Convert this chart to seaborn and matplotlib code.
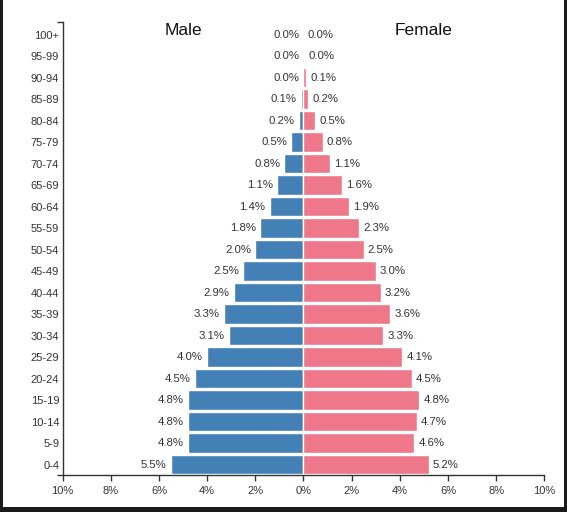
import numpy as np
import pandas as pd
import seaborn as sns
import matplotlib.pyplot as plt
from matplotlib.patches import Rectangle

# age groups, top of the pyramid first
age_groups = ["100+", "95-99", "90-94", "85-89", "80-84", "75-79", "70-74",
              "65-69", "60-64", "55-59", "50-54", "45-49", "40-44", "35-39",
              "30-34", "25-29", "20-24", "15-19", "10-14", "5-9", "0-4"]
# share of population in %
male = [0.0, 0.0, 0.0, 0.1, 0.2, 0.5, 0.8, 1.1, 1.4, 1.8, 2.0, 2.5, 2.9, 3.3,
        3.1, 4.0, 4.5, 4.8, 4.8, 4.8, 5.5]
female = [0.0, 0.03, 0.1, 0.2, 0.5, 0.8, 1.1, 1.6, 1.9, 2.3, 2.5, 3.0, 3.2, 3.6,
          3.3, 4.1, 4.5, 4.8, 4.7, 4.6, 5.2]
x_ticks = list(range(-10, 11, 2))

blue = "#4380b6"
pink = "#ee7889"
ink = "#333333"

sns.set_style("white")
plt.rcParams["font.family"] = ["Liberation Sans", "DejaVu Sans"]

df = pd.DataFrame({"age": age_groups, "male": male, "female": female})
df["male_neg"] = -df["male"]

fig = plt.figure(figsize=(5.67, 5.12), dpi=100)
ax = fig.add_axes([62.6 / 567, 36.7 / 512, 481.7 / 567, 452.8 / 512])

sns.barplot(data=df, x="male_neg", y="age", orient="h", color=blue,
            width=0.91, saturation=1, ax=ax)
sns.barplot(data=df, x="female", y="age", orient="h", color=pink,
            width=0.91, saturation=1, ax=ax)

# value labels at the bar ends
for i, (m, f) in enumerate(zip(male, female)):
    ax.annotate("{:.1f}%".format(m), xy=(-m, i), xytext=(-3, 0),
                textcoords="offset points", ha="right", va="center",
                fontsize=8.2, color=ink)
    ax.annotate("{:.1f}%".format(f), xy=(f, i), xytext=(3, 0),
                textcoords="offset points", ha="left", va="center",
                fontsize=8.2, color=ink)

ax.set_xlim(-10, 10)
ax.set_ylim(20.5, -0.56)
ax.set_xticks(x_ticks)
ax.set_xticklabels(["{}%".format(abs(t)) for t in x_ticks])
ax.set(xlabel="", ylabel="")

# D3-like axes: outer ticks at the ends of the y domain
ax.set_yticks([20.5, -0.56], minor=True)
ax.tick_params(axis="y", which="major", length=0, pad=2.5, labelsize=8, labelcolor=ink)
ax.tick_params(axis="y", which="minor", length=4.5, width=1, color=ink, left=True)
ax.tick_params(axis="x", which="major", length=4.5, width=1, color=ink, bottom=True,
               pad=3, labelsize=8, labelcolor=ink)

for side in ["top", "right"]:
    ax.spines[side].set_visible(False)
for side in ["left", "bottom"]:
    ax.spines[side].set_color(ink)
    ax.spines[side].set_linewidth(1)

ax.text(-5, 0.982, "Male", transform=ax.get_xaxis_transform(), ha="center",
        va="center", fontsize=12.5, color="#111111")
ax.text(5, 0.982, "Female", transform=ax.get_xaxis_transform(), ha="center",
        va="center", fontsize=12.5, color="#111111")

# dark frame of the screenshot (left, right, bottom)
for r in [(0, 0, 2.5 / 567, 1), (564 / 567, 0, 3 / 567, 1), (0, 0, 1, 5.5 / 512)]:
    fig.add_artist(Rectangle((r[0], r[1]), r[2], r[3], transform=fig.transFigure,
                             facecolor="#1a1a1a", edgecolor="none"))

plt.savefig("out.png", dpi=100)
